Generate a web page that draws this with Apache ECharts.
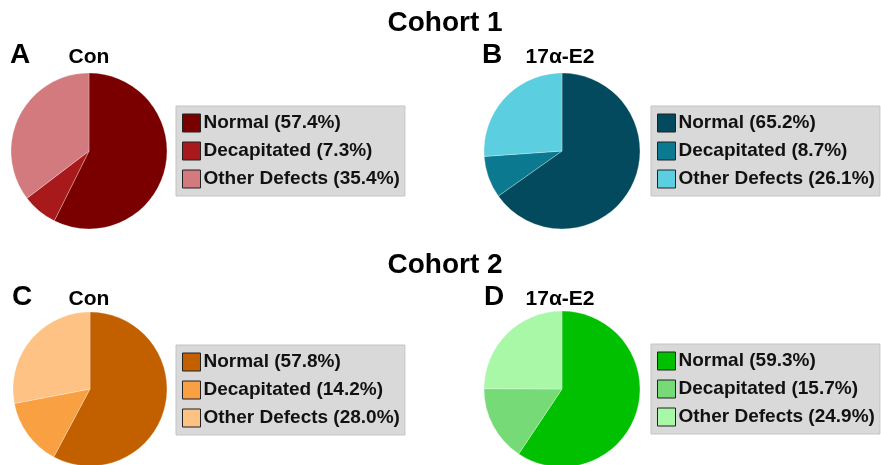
<!DOCTYPE html>
<html>
<head>
<meta charset="utf-8">
<script src="https://cdn.jsdelivr.net/npm/echarts@6/dist/echarts.min.js"></script>
<style>
  html, body { margin: 0; padding: 0; background: #fff; }
  #main { width: 881px; height: 465px; }
</style>
</head>
<body>
<div id="main"></div>
<script>
// categories shared by all four pies
const categories = ['Normal', 'Decapitated', 'Other Defects'];

// percentages per panel
const cohort1Con = [57.4, 7.3, 35.4];
const cohort1E2 = [65.2, 8.7, 26.1];
const cohort2Con = [57.8, 14.2, 28.0];
const cohort2E2 = [59.3, 15.7, 24.9];

const panelLetters = ['A', 'B', 'C', 'D'];
const groupLabels = ['Con', '17α-E2', 'Con', '17α-E2'];
const cohortLabels = ['Cohort 1', 'Cohort 2'];

const panelColors = [
  ['#7a0000', '#a8191c', '#d27a7e'],
  ['#034a5e', '#0b7a90', '#5bcee0'],
  ['#c26000', '#f9a043', '#fdc284'],
  ['#00c000', '#76da76', '#a8f8a8']
];

const panelValues = [cohort1Con, cohort1E2, cohort2Con, cohort2E2];

// layout per panel: pie center, radius, legend box
const layout = [
  { cx: 89, cy: 151, r: 78, lx: 176, ly: 106, tx: 10, ty: 55, gx: 89 },
  { cx: 562, cy: 151, r: 78, lx: 651, ly: 106, tx: 482, ty: 55, gx: 560 },
  { cx: 90, cy: 389, r: 77, lx: 176, ly: 345, tx: 12, ty: 297, gx: 89 },
  { cx: 562, cy: 389, r: 78, lx: 651, ly: 344, tx: 484, ty: 297, gx: 560 }
];

const FONT = '"Liberation Sans", Arial, sans-serif';

function sliceName(cat, v) {
  return cat + ' (' + v.toFixed(1) + '%)';
}

const chart = echarts.init(document.getElementById('main'), null, { renderer: 'canvas' });

const series = [];
const legends = [];
const graphics = [];

panelValues.forEach(function (vals, i) {
  const L = layout[i];
  const data = categories.map(function (c, k) {
    return {
      name: sliceName(c, vals[k]),
      value: vals[k],
      itemStyle: { color: panelColors[i][k] }
    };
  });
  series.push({
    type: 'pie',
    center: [L.cx, L.cy],
    radius: [0, L.r],
    startAngle: 90,
    clockwise: true,
    label: { show: false },
    labelLine: { show: false },
    emphasis: { disabled: true },
    itemStyle: { borderColor: 'rgba(255,255,255,0.35)', borderWidth: 0.8 },
    data: data
  });
  legends.push({
    orient: 'vertical',
    left: L.lx,
    top: L.ly,
    data: data.map(function (d) { return d.name; }),
    icon: 'rect',
    itemWidth: 18,
    itemHeight: 18,
    itemGap: 8,
    padding: [7, 5, 7, 6],
    backgroundColor: '#d9d9d9',
    borderColor: '#c4c4c4',
    borderWidth: 1,
    selectedMode: false,
    itemStyle: { borderColor: '#222', borderWidth: 1 },
    textStyle: {
      fontFamily: FONT,
      fontWeight: 'bold',
      fontSize: 19,
      lineHeight: 20,
      color: '#111',
      padding: [0, 0, 0, -2]
    }
  });
  graphics.push({
    type: 'text',
    x: L.tx,
    y: L.ty,
    style: {
      text: panelLetters[i],
      font: 'bold 28px ' + FONT,
      fill: '#000',
      textVerticalAlign: 'middle'
    }
  });
  graphics.push({
    type: 'text',
    x: L.gx,
    y: L.ty + 2,
    style: {
      text: groupLabels[i],
      font: 'bold 21px ' + FONT,
      fill: '#000',
      textAlign: 'center',
      textVerticalAlign: 'middle'
    }
  });
});

graphics.push({
  type: 'text', x: 445, y: 23,
  style: { text: cohortLabels[0], font: 'bold 28px ' + FONT, fill: '#000', textAlign: 'center', textVerticalAlign: 'middle' }
});
graphics.push({
  type: 'text', x: 445, y: 265,
  style: { text: cohortLabels[1], font: 'bold 28px ' + FONT, fill: '#000', textAlign: 'center', textVerticalAlign: 'middle' }
});

chart.setOption({
  backgroundColor: '#ffffff',
  animation: false,
  legend: legends,
  series: series,
  graphic: graphics
});
</script>
</body>
</html>
